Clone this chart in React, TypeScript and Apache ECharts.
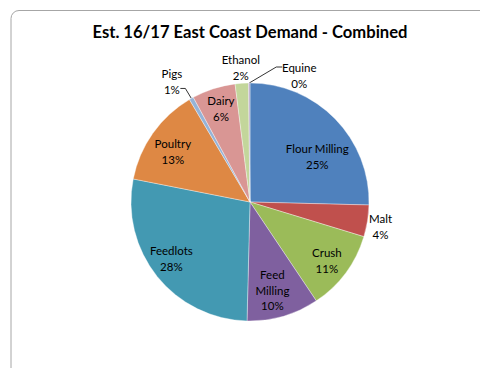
import React, { useEffect, useRef } from "react";
import * as echarts from "echarts";

const categories = [
  "Flour Milling", "Malt", "Crush", "Feed Milling", "Feedlots",
  "Poultry", "Pigs", "Dairy", "Ethanol", "Equine",
];
const values = [25.4, 4.3, 10.9, 9.8, 27.7, 13.4, 0.6, 5.9, 1.8, 0.2];
const colors = [
  "#4F81BD", "#C0504D", "#9BBB59", "#7F609F", "#4399B2",
  "#DE8844", "#95B3D7", "#D99694", "#C3D69B", "#B3A2C7",
];
const insideLabel = [true, false, true, true, true, true, false, true, false, false];
// nudges (px) for inside labels, applied after the library's layout
const labelNudge: [number, number][] = [
  [-3, 23], [0, 0], [-2, 0], [-5, -6], [-2, -5], [3, 6], [0, 0], [1, 0], [0, 0], [0, 0],
];
// outside labels: offset of label centre from the slice's outer mid point
const outsideOffset: [number, number][] = [
  [0, 0], [13, 6], [0, 0], [0, 0], [0, 0], [0, 0], [-19.5, -17], [0, 0], [-1, -16], [50, -7.5],
];
// leader lines: bend and end, relative to the slice's outer mid point
const leader: ([number, number][] | null)[] = [
  null, null, null, null, null, null,
  [[-6, -10], [-11, -10]],
  null, null,
  [[27, -16], [33, -16]],
];

const FONT = "Lato";
const FS = 11.5;

function displayName(n: string) {
  return n === "Feed Milling" ? "Feed\nMilling" : n;
}

export default function App() {
  const ref = useRef<HTMLDivElement>(null);
  useEffect(() => {
    document.body.style.margin = "0";
    const chart = echarts.init(ref.current!, undefined, { renderer: "svg" });
    const total = values.reduce((a, b) => a + b, 0);
    const pct = (v: number) => Math.round((v / total) * 100) + "%";
    const R = 119;
    const C = [250, 202];
    const mids: number[] = [];
    let acc = 0;
    values.forEach((v) => {
      const a0 = (acc / total) * Math.PI * 2;
      acc += v;
      const a1 = (acc / total) * Math.PI * 2;
      mids.push((a0 + a1) / 2);
    });
    const anchor = (i: number) => [C[0] + R * Math.sin(mids[i]), C[1] - R * Math.cos(mids[i])];

    chart.setOption({
      animation: false,
      backgroundColor: "#ffffff",
      title: {
        text: "Est. 16/17 East Coast Demand - Combined",
        left: 250,
        top: 23,
        textAlign: "center",
        padding: 0,
        textStyle: { fontFamily: FONT, fontWeight: "bold", fontSize: 16.6, color: "#000" },
      },
      graphic: [
        {
          type: "rect",
          shape: { x: 11, y: 10.5, width: 480, height: 370, r: 8 },
          style: { fill: "none", stroke: "#a6a6a6", lineWidth: 1 },
          silent: true,
          z: -1,
        },
      ],
      series: [
        {
          type: "pie",
          center: C,
          radius: [0, R],
          startAngle: 90,
          clockwise: true,
          avoidLabelOverlap: false,
          itemStyle: { borderColor: "rgba(255,255,255,0.6)", borderWidth: 0.6 },
          label: {
            fontFamily: FONT,
            fontSize: FS,
            lineHeight: 16,
            color: "#000",
            formatter: (p: any) => `${p.name}\n${pct(p.value)}`,
          },
          labelLine: { lineStyle: { color: "#000", width: 0.8 } },
          labelLayout: (p: any) => {
            const i = p.dataIndex;
            if (insideLabel[i]) return {};
            const a = anchor(i);
            const o = outsideOffset[i];
            const res: any = {
              x: a[0] + o[0],
              y: a[1] + o[1],
              align: "center",
              verticalAlign: "middle",
            };
            const l = leader[i];
            if (l) {
              res.labelLinePoints = [a, [a[0] + l[0][0], a[1] + l[0][1]], [a[0] + l[1][0], a[1] + l[1][1]]];
            }
            return res;
          },
          data: categories.map((c, i) => ({
            name: c,
            value: values[i],
            itemStyle: { color: colors[i] },
            label: { show: !insideLabel[i], position: "outside" },
            labelLine: { show: !!leader[i], length: 10, length2: 5 },
          })),
        },
        {
          type: "pie",
          center: C,
          radius: [0, R * 1.6],
          startAngle: 90,
          clockwise: true,
          silent: true,
          avoidLabelOverlap: false,
          itemStyle: { color: "rgba(0,0,0,0)" },
          emphasis: { disabled: true },
          label: {
            position: "inside",
            fontFamily: FONT,
            fontSize: FS,
            color: "#000",
            lineHeight: 15.5,
            formatter: (p: any) => `${displayName(p.name)}\n${pct(p.value)}`,
          },
          labelLine: { show: false },
          labelLayout: (p: any) => {
            const d = labelNudge[p.dataIndex];
            return { dx: d[0], dy: d[1] };
          },
          data: categories.map((c, i) => ({
            name: c,
            value: values[i],
            label: { show: insideLabel[i] },
          })),
        },
      ],
    });
    return () => chart.dispose();
  }, []);
  return (
    <div
      ref={ref}
      style={{ position: "fixed", left: 0, top: 0, width: 480, height: 368 }}
    />
  );
}
